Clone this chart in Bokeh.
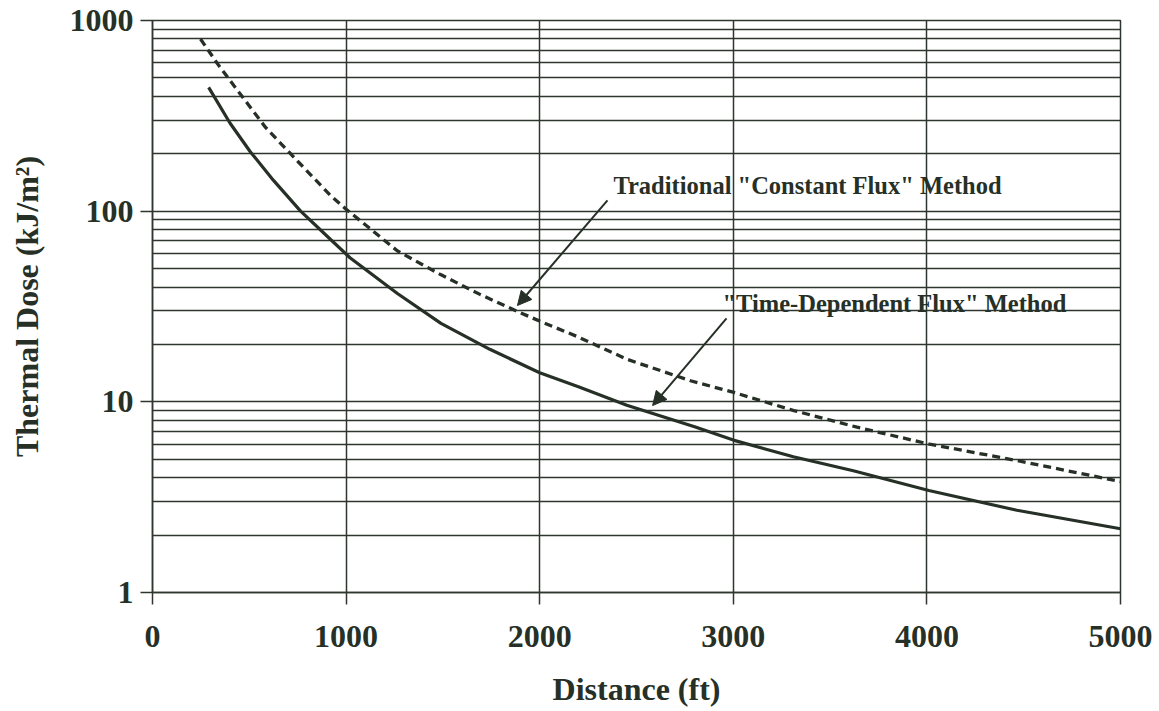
from bokeh.plotting import figure
from bokeh.models import FixedTicker, Arrow, NormalHead, Label, Range1d
from bokeh.embed import file_html
from bokeh.resources import INLINE

# Data
solid_x = [290, 400, 505, 625, 765, 920, 1020, 1265, 1490, 1745, 2000, 2200, 2450,
           2800, 3000, 3310, 3620, 4010, 4465, 5000]
solid_y = [446, 290, 205, 145, 100, 71, 57, 37, 25.8, 18.8, 14.2, 12.0, 9.6,
           7.4, 6.3, 5.15, 4.35, 3.43, 2.7, 2.16]

dashed_x = [248, 334, 420, 584, 756, 919, 997, 1264, 1488, 1694, 1901, 2004, 2194,
            2452, 2779, 3003, 3313, 3639, 4013, 4466, 5000]
dashed_y = [800, 597, 456, 275, 180, 121, 103, 62, 46.5, 36.5, 29.3, 26.4, 22.0,
            16.7, 12.9, 11.2, 9.0, 7.36, 6.0, 4.92, 3.82]

x_ticks = [0, 1000, 2000, 3000, 4000, 5000]
y_ticks = [1, 10, 100, 1000]
y_minor = [m * d for d in (1, 10, 100) for m in range(2, 10)]

label_const = 'Traditional "Constant Flux" Method'
label_time = '"Time-Dependent Flux" Method'

INK = "#263026"
GRID = "#2f362f"
FONT = "Liberation Serif"

p = figure(width=1155, height=711, y_axis_type="log",
           x_range=Range1d(0, 5000), y_range=Range1d(1, 1000),
           output_backend="svg", toolbar_location=None,
           min_border_left=152, min_border_right=35, min_border_top=20, min_border_bottom=119)

p.background_fill_color = "white"
p.border_fill_color = "white"
p.outline_line_color = GRID
p.outline_line_width = 1.5

# ticks
p.xaxis.ticker = FixedTicker(ticks=x_ticks)
p.yaxis.ticker = FixedTicker(ticks=y_ticks, minor_ticks=y_minor)
p.yaxis.major_label_overrides = {v: str(v) for v in y_ticks}

for ax in (p.xaxis, p.yaxis):
    ax.major_label_text_font = FONT
    ax.major_label_text_font_style = "bold"
    ax.major_label_text_font_size = "32px"
    ax.major_label_text_color = INK
    ax.axis_label_text_font = FONT
    ax.axis_label_text_font_style = "bold"
    ax.axis_label_text_font_size = "32px"
    ax.axis_label_text_color = INK
    ax.major_tick_out = 12
    ax.major_tick_in = 0
    ax.minor_tick_line_color = None
    ax.major_tick_line_color = GRID
    ax.major_tick_line_width = 1.5
    ax.axis_line_color = GRID
    ax.axis_line_width = 1.5

p.xaxis.axis_label = "Distance (ft)"
p.yaxis.axis_label = "Thermal Dose (kJ/m\u00b2)"
p.xaxis.major_label_standoff = 21
p.xaxis.axis_label_standoff = 21
p.yaxis.major_label_standoff = 7
p.yaxis.axis_label_standoff = 22

# grid
p.xgrid.grid_line_color = GRID
p.xgrid.grid_line_width = 1.5
p.ygrid.grid_line_color = GRID
p.ygrid.grid_line_width = 1.5
p.ygrid.minor_grid_line_color = GRID
p.ygrid.minor_grid_line_width = 1.5

# curves
p.line(dashed_x, dashed_y, line_color=INK, line_width=3.3, line_dash="8 5")
p.line(solid_x, solid_y, line_color=INK, line_width=3.2)

# annotations
p.add_layout(Label(x=2381, y=136, text=label_const, text_font=FONT, text_font_style="bold",
                   text_font_size="24.5px", text_color=INK, text_baseline="middle"))
p.add_layout(Label(x=2944, y=32.8, text=label_time, text_font=FONT, text_font_style="bold",
                   text_font_size="24.5px", text_color=INK, text_baseline="middle"))

p.add_layout(Arrow(end=NormalHead(size=14, fill_color=INK, line_color=INK),
                   x_start=2350, y_start=114, x_end=1885, y_end=32,
                   line_color=INK, line_width=2))
p.add_layout(Arrow(end=NormalHead(size=14, fill_color=INK, line_color=INK),
                   x_start=2965, y_start=27.4, x_end=2583, y_end=9.56,
                   line_color=INK, line_width=2))

open("out.html", "w").write(file_html(p, INLINE))
